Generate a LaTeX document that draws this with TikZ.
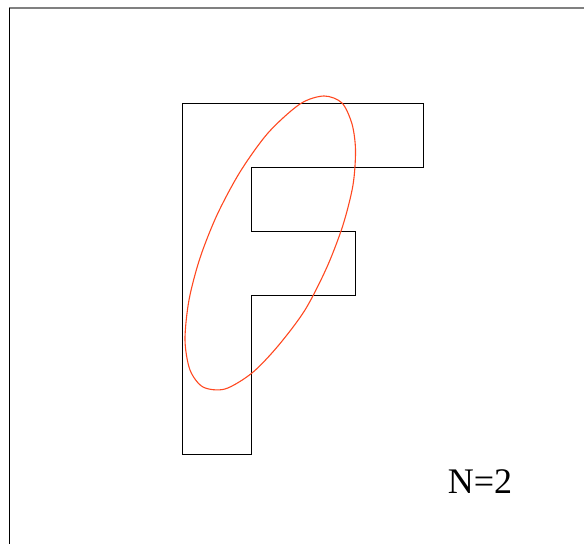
\documentclass[tikz,border=0pt]{standalone}
\usepackage{fontspec}
\setmainfont{Liberation Serif}
\definecolor{loopred}{RGB}{255,72,32}

\begin{document}
\begin{tikzpicture}[
  x=0.5pt, y=-0.5pt,
  letter/.style={draw=black, line width=0.5pt},
  loopline/.style={draw=loopred, line width=0.55pt},
  frameline/.style={line width=0.8pt},
  caption/.style={font=\fontsize{18}{21}\selectfont, inner sep=0pt}
]
\useasboundingbox (0,0) rectangle (584,544);

% frame
\draw[frameline, draw=gray] (9,8) -- (584,8);
\draw[frameline, draw=black] (9.5,8) -- (9.5,544);

% letter F
\draw[letter] (182,104) -- (423.5,104) -- (423.5,168) -- (251.5,168) -- (251.5,232)
  -- (355,232) -- (355,296) -- (251.5,296) -- (251.5,455) -- (182,455) -- cycle;

% hand-drawn loop
\draw[loopline] plot[smooth cycle, tension=0.5] coordinates {
  (324,96) (342,103) (352,124) (355.5,150) (353,185) (343,225)
  (327,267) (305,310) (278,346) (252,373) (225,389)
  (203,387) (190,370) (185,340) (189,300) (200,258)
  (217,215) (240,172) (268,133) (300,104)};

\node[caption] (count) at (480,482) {N=2};
\end{tikzpicture}
\end{document}
